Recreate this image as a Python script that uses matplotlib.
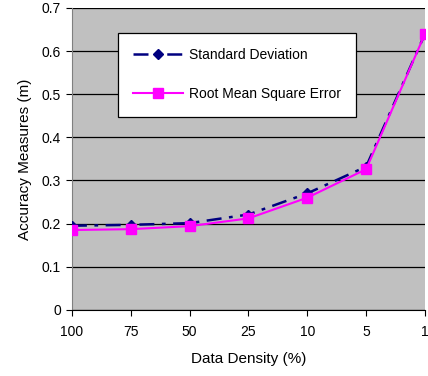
import matplotlib
matplotlib.use("Agg")
import matplotlib.pyplot as plt

categories = ["100", "75", "50", "25", "10", "5", "1"]
std_dev = [0.195, 0.197, 0.201, 0.221, 0.270, 0.332, 0.640]
rmse = [0.185, 0.187, 0.194, 0.212, 0.260, 0.326, 0.640]
yticks = [0, 0.1, 0.2, 0.3, 0.4, 0.5, 0.6, 0.7]
ytick_labels = ["0", "0.1", "0.2", "0.3", "0.4", "0.5", "0.6", "0.7"]

plt.rcParams['font.family'] = ['Liberation Sans', 'DejaVu Sans']

fig = plt.figure(figsize=(4.28, 3.76), dpi=100)
ax = fig.add_axes([0.168, 0.176, 0.825, 0.803])
ax.set_facecolor("#C0C0C0")

x = list(range(len(categories)))
ax.plot(x, std_dev, color="#000080", linestyle=(0, (6, 3, 1.5, 3)), linewidth=1.8,
        marker="D", markersize=5.5, markerfacecolor="#000080", markeredgecolor="#000080",
        label="Standard Deviation", zorder=3)
ax.plot(x, rmse, color="#FF00FF", linestyle="-", linewidth=1.5,
        marker="s", markersize=7, markerfacecolor="#FF00FF", markeredgecolor="#FF00FF",
        label="Root Mean Square Error", zorder=4)

ax.set_xlim(0, len(categories) - 1)
ax.set_ylim(0, 0.7)
ax.set_yticks(yticks)
ax.set_yticklabels(ytick_labels, fontsize=10)
ax.set_xticks(x)
ax.set_xticklabels(categories, fontsize=10)
ax.tick_params(axis="x", direction="out", length=4, pad=7, color="black")
ax.tick_params(axis="y", direction="out", length=4, pad=4, color="black")
ax.yaxis.grid(True, color="black", linewidth=0.9)
ax.set_axisbelow(True)
for side in ["top", "right"]:
    ax.spines[side].set_visible(False)
ax.spines["left"].set_color("#808080")
ax.spines["bottom"].set_color("black")

ax.set_xlabel("Data Density (%)", fontsize=11, labelpad=9)
ax.set_ylabel("Accuracy Measures (m)", fontsize=11, labelpad=7)

leg = ax.legend(loc="upper left", bbox_to_anchor=(0.13, 0.917), borderaxespad=0,
                fontsize=10, frameon=True, fancybox=False, borderpad=1.1, labelspacing=1.8,
                handlelength=3.6, handletextpad=0.4, edgecolor="black", framealpha=1)
leg.get_frame().set_linewidth(0.9)

fig.savefig("out.png", dpi=100)
